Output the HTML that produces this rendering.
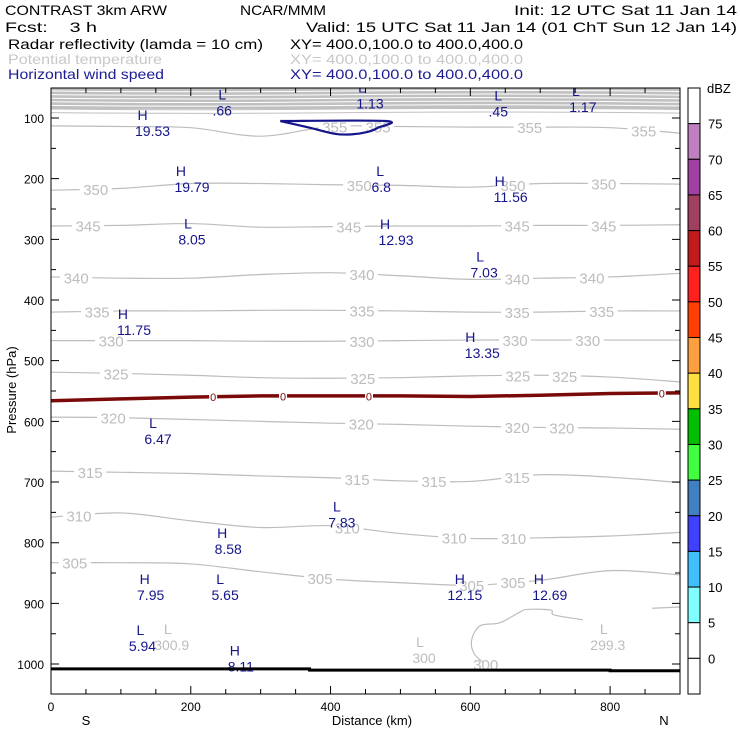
<!DOCTYPE html>
<html><head><meta charset="utf-8"><style>
html,body{margin:0;padding:0;background:#fff;}
svg{display:block;font-family:"Liberation Sans",sans-serif;}
</style></head><body>
<svg id="chart" width="740" height="740" viewBox="0 0 740 740" xmlns="http://www.w3.org/2000/svg">
<g font-size="14">
<text x="5" y="15" textLength="162" lengthAdjust="spacingAndGlyphs">CONTRAST  3km ARW</text>
<text x="240" y="15" textLength="86" lengthAdjust="spacingAndGlyphs">NCAR/MMM</text>
<text x="514" y="15" textLength="223" lengthAdjust="spacingAndGlyphs">Init: 12 UTC Sat 11 Jan 14</text>
<text x="5" y="32" textLength="92" lengthAdjust="spacingAndGlyphs" xml:space="preserve">Fcst:    3 h</text>
<text x="306" y="32" textLength="431" lengthAdjust="spacingAndGlyphs">Valid: 15 UTC Sat 11 Jan 14 (01 ChT Sun 12 Jan 14)</text>
<text x="8" y="49" textLength="255" lengthAdjust="spacingAndGlyphs">Radar reflectivity (lamda = 10 cm)</text>
<text x="290" y="49" textLength="233" lengthAdjust="spacingAndGlyphs">XY= 400.0,100.0 to 400.0,400.0</text>
<text x="8" y="64" fill="#c8c8c8" textLength="154" lengthAdjust="spacingAndGlyphs">Potential temperature</text>
<text x="290" y="64" fill="#c8c8c8" textLength="233" lengthAdjust="spacingAndGlyphs">XY= 400.0,100.0 to 400.0,400.0</text>
<text x="8" y="79" fill="#1c1c96" textLength="156" lengthAdjust="spacingAndGlyphs">Horizontal wind speed</text>
<text x="290" y="79" fill="#1c1c96" textLength="233" lengthAdjust="spacingAndGlyphs">XY= 400.0,100.0 to 400.0,400.0</text>
</g>
<g id="plot"></g>
</svg>
<script>
const stationsKm = [0,100,200,300,400,500,600,700,800,900];
const thetaLevels = [355,350,345,340,335,330,325,320,315,310,305];
const theta355 = [113,114,116,130,114,114,115,115,116,125];
const theta350 = [219,216,208,208,210,211,214,208,208,209];
const theta345 = [278,277,274,280,279,278,278,277,277,276];
const theta340 = [362,364,364,358,355,360,366,364,362,356];
const theta335 = [420,418,418,417,417,418,420,420,418,418];
const theta330 = [467,467,467,468,468,467,466,466,466,466];
const theta325 = [519,521,524,528,529,528,525,524,527,535];
const theta320 = [593,594,597,600,603,605,608,610,611,613];
const theta315 = [682,684,686,690,693,698,699,688,692,701];
const theta310 = [758,751,764,775,772,785,793,792,789,783];
const theta305 = [833,833,835,848,860,866,870,862,846,853];
const thetaSeries = [theta355,theta350,theta345,theta340,theta335,theta330,theta325,theta320,theta315,theta310,theta305];
const thetaLabelKm = [[406,468,685,848],[64,441,661,791],[53,426,667,791],[36,445,667,774],[66,445,667,788],[86,445,664,768],[93,446,668,735],[89,444,667,731],[56,438,548,667],[40,424,577,662],[34,385,602,661]];
const theta300Right = [[900,906],[860,908]];
const theta300Loop = [[761,927],[720,919],[715,911],[681,910],[670,915],[642,932],[614,937],[602,960],[605,982],[619,998]];
const reflZeroKm = [0,100,200,300,400,500,600,700,800,900];
const reflZeroP = [566,563,560,558,558,558,559,557,554,553];
const reflZeroMarkKm = [232,332,455,874];
const windContourKm = [328,370,406,430,453,468,479,328];
const windContourP = [105,116,126,127,123,116,105,105];
const surfaceKm = [0,370,370,800,800,900];
const surfaceP = [1008,1008,1010,1010,1011,1011];
const extremaType = ["H","L","L","L","L","H","L","H","L","H","L","H","H","L","L","H","H","L","H","H","L","H"];
const extremaVal = ["19.53",".66","1.13",".45","1.17","19.79","6.8","11.56","8.05","12.93","7.03","11.75","13.35","6.47","7.83","8.58","7.95","5.65","12.15","12.69","5.94","8.11"];
const extremaKm = [131,245,445,640,751,186,471,642,196,478,614,103,600,146,409,245,134,242,585,698,128,263];
const extremaP = [93,60,48,61,54,186,186,202,272,273,327,421,459,601,739,782,858,858,858,858,942,976];
const valueOffsetPx = [10,0,8,0,7,11,1,11,4,11,4,11,12,5,5,6,6,5,5,11,2,6];
const thetaExtType = ["L","L","L"];
const thetaExtVal = ["300.9","300","299.3"];
const thetaExtKm = [167,528,791];
const thetaExtP = [941,962,941];
const cbLevels = [75,70,65,60,55,50,45,40,35,30,25,20,15,10,5,0];
const cbColors = ["#ffffff","#c080c0","#a040a0","#a04060","#c01a1a","#ff2020","#ff4000","#ffa040","#ffe040","#00c000","#40ff40","#4080c0","#4040ff","#40c0ff","#80ffff","#ffffff","#ffffff"];
const xTicks = [0,200,400,600,800];
const yTicks = [100,200,300,400,500,600,700,800,900,1000];

const X0=51,X1=680,Y0=88,Y1=694;
function xS(km){return X0+km*(X1-X0)/900;}
function yS(p){return 118+(p-100)*0.6067;}
const NS="http://www.w3.org/2000/svg";
const plot=document.getElementById('plot');
function mk(tag,attrs,parent){const e=document.createElementNS(NS,tag);for(const k in attrs)e.setAttribute(k,attrs[k]);(parent||plot).appendChild(e);return e;}
function interp(xs,ys,x){for(let i=0;i<xs.length-1;i++){if(x>=xs[i]&&x<=xs[i+1]){const t=(x-xs[i])/(xs[i+1]-xs[i]);return ys[i]+t*(ys[i+1]-ys[i]);}}return ys[ys.length-1];}
function smoothPath(pts){let d="M"+pts[0][0]+","+pts[0][1];for(let i=0;i<pts.length-1;i++){const p0=pts[i-1]||pts[i],p1=pts[i],p2=pts[i+1],p3=pts[i+2]||p2;d+=" C"+(p1[0]+(p2[0]-p0[0])/6)+","+(p1[1]+(p2[1]-p0[1])/6)+" "+(p2[0]-(p3[0]-p1[0])/6)+","+(p2[1]-(p3[1]-p1[1])/6)+" "+p2[0]+","+p2[1];}return d;}

const clip=mk('clipPath',{id:'pc'});mk('rect',{x:X0,y:Y0,width:X1-X0,height:Y1-Y0},clip);
const g=mk('g',{'clip-path':'url(#pc)'});



// dense upper-level theta contours
const topFill=mk('rect',{x:X0,y:Y0,width:X1-X0,height:21,fill:'#c0c0c0'},g);


for(let y=Y0+3;y<Y0+28;y+=3.6){const l=mk('path',{d:`M${X0},${y} Q${X0+150},${y+1.5} ${X0+300},${y} T${X1},${y+0.5}`,stroke:y<Y0+20?'#ffffff':'#c0c0c0','stroke-width':1,fill:'none'},g);

}

thetaSeries.forEach((arr,i)=>{
  const pts=stationsKm.map((k,j)=>[xS(k),yS(arr[j])]);
  const c=mk('path',{d:smoothPath(pts),stroke:'#bdbdbd','stroke-width':1.2,fill:'none'},g);
  
  
});
[theta300Right,theta300Loop].forEach(seg=>{
  const c=mk('path',{d:smoothPath(seg.map(q=>[xS(q[0]),yS(q[1])])),stroke:'#bdbdbd','stroke-width':1.2,fill:'none'},g);
  
  
});
thetaSeries.forEach((arr,i)=>{
  thetaLabelKm[i].forEach(k=>{
    const x=xS(k),y=yS(interp(stationsKm,arr,k));
    const r=mk('rect',{x:x-16,y:y-7,width:32,height:14,fill:'#fff'},g);
    
    
    const t=mk('text',{x:x,y:y+6,'text-anchor':'middle','font-size':15,fill:'#bdbdbd'},g);
    
    
    t.textContent=thetaLevels[i];
  });
});
{const x=xS(622),y=yS(1000);const t=mk('text',{x:x,y:y+6,'text-anchor':'middle','font-size':15,fill:'#bdbdbd'},g);


t.textContent='300';}

{const pts=windContourKm.map((k,i)=>[xS(k),yS(windContourP[i])]);
const c=mk('path',{d:smoothPath(pts),stroke:'#14148c','stroke-width':2.2,fill:'none'},g);

}

{const d=reflZeroKm.map((k,i)=>(i?'L':'M')+xS(k)+','+yS(reflZeroP[i])).join(' ');
const c=mk('path',{d:d,stroke:'#7a0a0a','stroke-width':3.5,fill:'none'},g);


reflZeroMarkKm.forEach(k=>{const x=xS(k),y=yS(interp(reflZeroKm,reflZeroP,k));
const r=mk('rect',{x:x-4,y:y-6,width:8,height:12,fill:'#fff'},g);


const t=mk('text',{x:x,y:y+4.5,'text-anchor':'middle','font-size':11,fill:'#7a0a0a'},g);


t.textContent='0';});}

extremaType.forEach((tp,i)=>{
  const x=xS(extremaKm[i]),y=yS(extremaP[i]);
  const a=mk('text',{x:x,y:y+6,'text-anchor':'middle','font-size':14,fill:'#14148c'},g);
  
  
  a.textContent=tp;
  const b=mk('text',{x:x+valueOffsetPx[i],y:y+22,'text-anchor':'middle','font-size':14,fill:'#14148c'},g);
  
  
  b.textContent=extremaVal[i];
});
thetaExtType.forEach((tp,i)=>{
  const x=xS(thetaExtKm[i]),y=yS(thetaExtP[i]);
  const a=mk('text',{x:x,y:y+6,'text-anchor':'middle','font-size':14,fill:'#bdbdbd'},g);
  
  
  a.textContent=tp;
  const b=mk('text',{x:x+4,y:y+22,'text-anchor':'middle','font-size':14,fill:'#bdbdbd'},g);
  
  
  b.textContent=thetaExtVal[i];
});

{const d=surfaceKm.map((k,i)=>(i?'L':'M')+xS(k)+','+yS(surfaceP[i])).join(' ');
const c=mk('path',{d:d,stroke:'#000','stroke-width':3,fill:'none'},g);

}

const fr=mk('rect',{x:X0,y:Y0,width:X1-X0,height:Y1-Y0,fill:'none',stroke:'#000','stroke-width':1});


for(let k=0;k<=900;k+=50){const x=xS(k),L=k%200===0?8:5;
const t1=mk('path',{d:`M${x},${Y1}V${Y1-L}M${x},${Y0}V${Y0+L}`,stroke:'#000','stroke-width':1});

}
xTicks.forEach(k=>{const t=mk('text',{x:xS(k),y:711,'text-anchor':'middle','font-size':12});


t.textContent=k;});
for(let p=100;p<=1000;p+=50){const y=yS(p),L=p%100===0?8:5;
const t1=mk('path',{d:`M${X0},${y}H${X0+L}M${X1},${y}H${X1-L}`,stroke:'#000','stroke-width':1});

}
yTicks.forEach(p=>{const t=mk('text',{x:44,y:yS(p)+5,'text-anchor':'end','font-size':12});


t.textContent=p;});
{const t=mk('text',{x:372,y:725,'text-anchor':'middle','font-size':13});


t.textContent='Distance (km)';
const s=mk('text',{x:86,y:725,'text-anchor':'middle','font-size':13});


s.textContent='S';
const n=mk('text',{x:664,y:725,'text-anchor':'middle','font-size':13});


n.textContent='N';
const yt=mk('text',{x:0,y:0,'text-anchor':'middle','font-size':13,transform:'translate(16,390) rotate(-90)'});


yt.textContent='Pressure (hPa)';}

const CB0=688,CBW=12,binH=(Y1-Y0)/cbColors.length;
cbColors.forEach((c,i)=>{const r=mk('rect',{x:CB0,y:Y0+i*binH,width:CBW,height:binH,fill:c,stroke:'#000','stroke-width':1});

});
cbLevels.forEach((v,i)=>{const t=mk('text',{x:708,y:Y0+(i+1)*binH+5,'font-size':13});


t.textContent=v;});
{const t=mk('text',{x:707,y:Y0+5,'font-size':13});


t.textContent='dBZ';}
</script>
</body></html>
